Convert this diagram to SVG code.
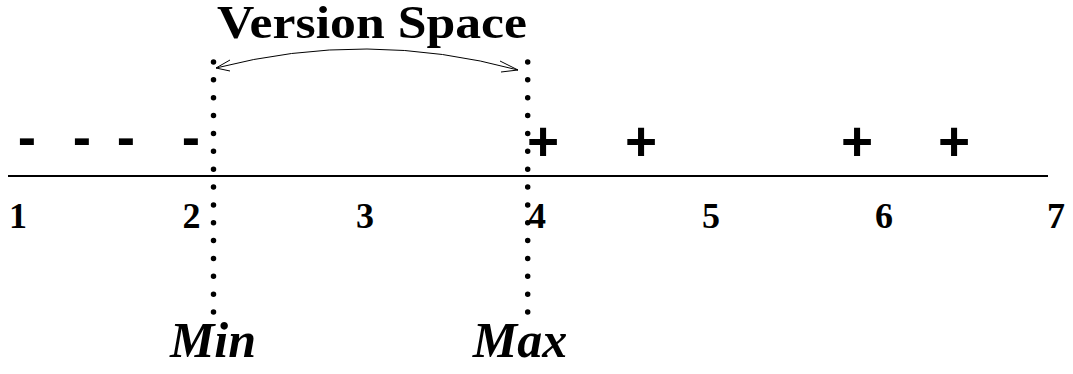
<svg xmlns="http://www.w3.org/2000/svg" width="1073" height="374" viewBox="0 0 1073 374">
<style>
.num{font-family:"Liberation Serif",serif;font-weight:bold;font-size:36px;text-anchor:middle;fill:#000}
.sym{font-family:"Liberation Sans",sans-serif;font-weight:bold;font-size:55px;text-anchor:middle;fill:#000}
.lbl{font-family:"Liberation Serif",serif;font-weight:bold;font-style:italic;font-size:50px;text-anchor:middle;fill:#000}
.title{font-family:"Liberation Serif",serif;font-weight:bold;font-size:47px;text-anchor:middle;fill:#000}
.dots{stroke:#000;stroke-width:5.5;stroke-linecap:round;stroke-dasharray:0 17.86;fill:none}
.ax{stroke:#000;stroke-width:2;fill:none}
.arr{stroke:#000;stroke-width:1;fill:none}
</style>
<rect width="1073" height="374" fill="#fff"/>
<g id="axis">
<line class="ax" x1="8" y1="176" x2="1048" y2="176"/>
</g>
<g id="ticks">
<text class="num" x="18" y="228">1</text>
<text class="num" x="191.5" y="228">2</text>
<text class="num" x="365" y="228">3</text>
<text class="num" x="537" y="228">4</text>
<text class="num" x="711" y="228">5</text>
<text class="num" x="884" y="228">6</text>
<text class="num" x="1056" y="228">7</text>
</g>
<g id="negatives">
<text class="sym" x="27" y="156">-</text>
<text class="sym" x="82" y="156">-</text>
<text class="sym" x="126" y="156">-</text>
<text class="sym" x="191" y="156">-</text>
</g>
<g id="positives">
<text class="sym" x="543" y="160">+</text>
<text class="sym" x="641" y="160">+</text>
<text class="sym" x="857" y="160">+</text>
<text class="sym" x="954" y="160">+</text>
</g>
<g id="min">
<path class="dots" d="M213.5 62 V312.1"/>
<text class="lbl" x="213" y="357">Min</text>
</g>
<g id="max">
<path class="dots" d="M527.7 62 V312.1"/>
<text class="lbl" x="520" y="357">Max</text>
</g>
<g id="connectors">
<path class="arr" d="M216 68 Q367 29 518 70"/>
<polyline class="arr" points="230,60 216,68 230,71"/>
<polyline class="arr" points="500,61 518,70 501,72"/>
</g>
<g id="title">
<text class="title" x="372" y="38" textLength="310" lengthAdjust="spacingAndGlyphs">Version Space</text>
</g>
</svg>
